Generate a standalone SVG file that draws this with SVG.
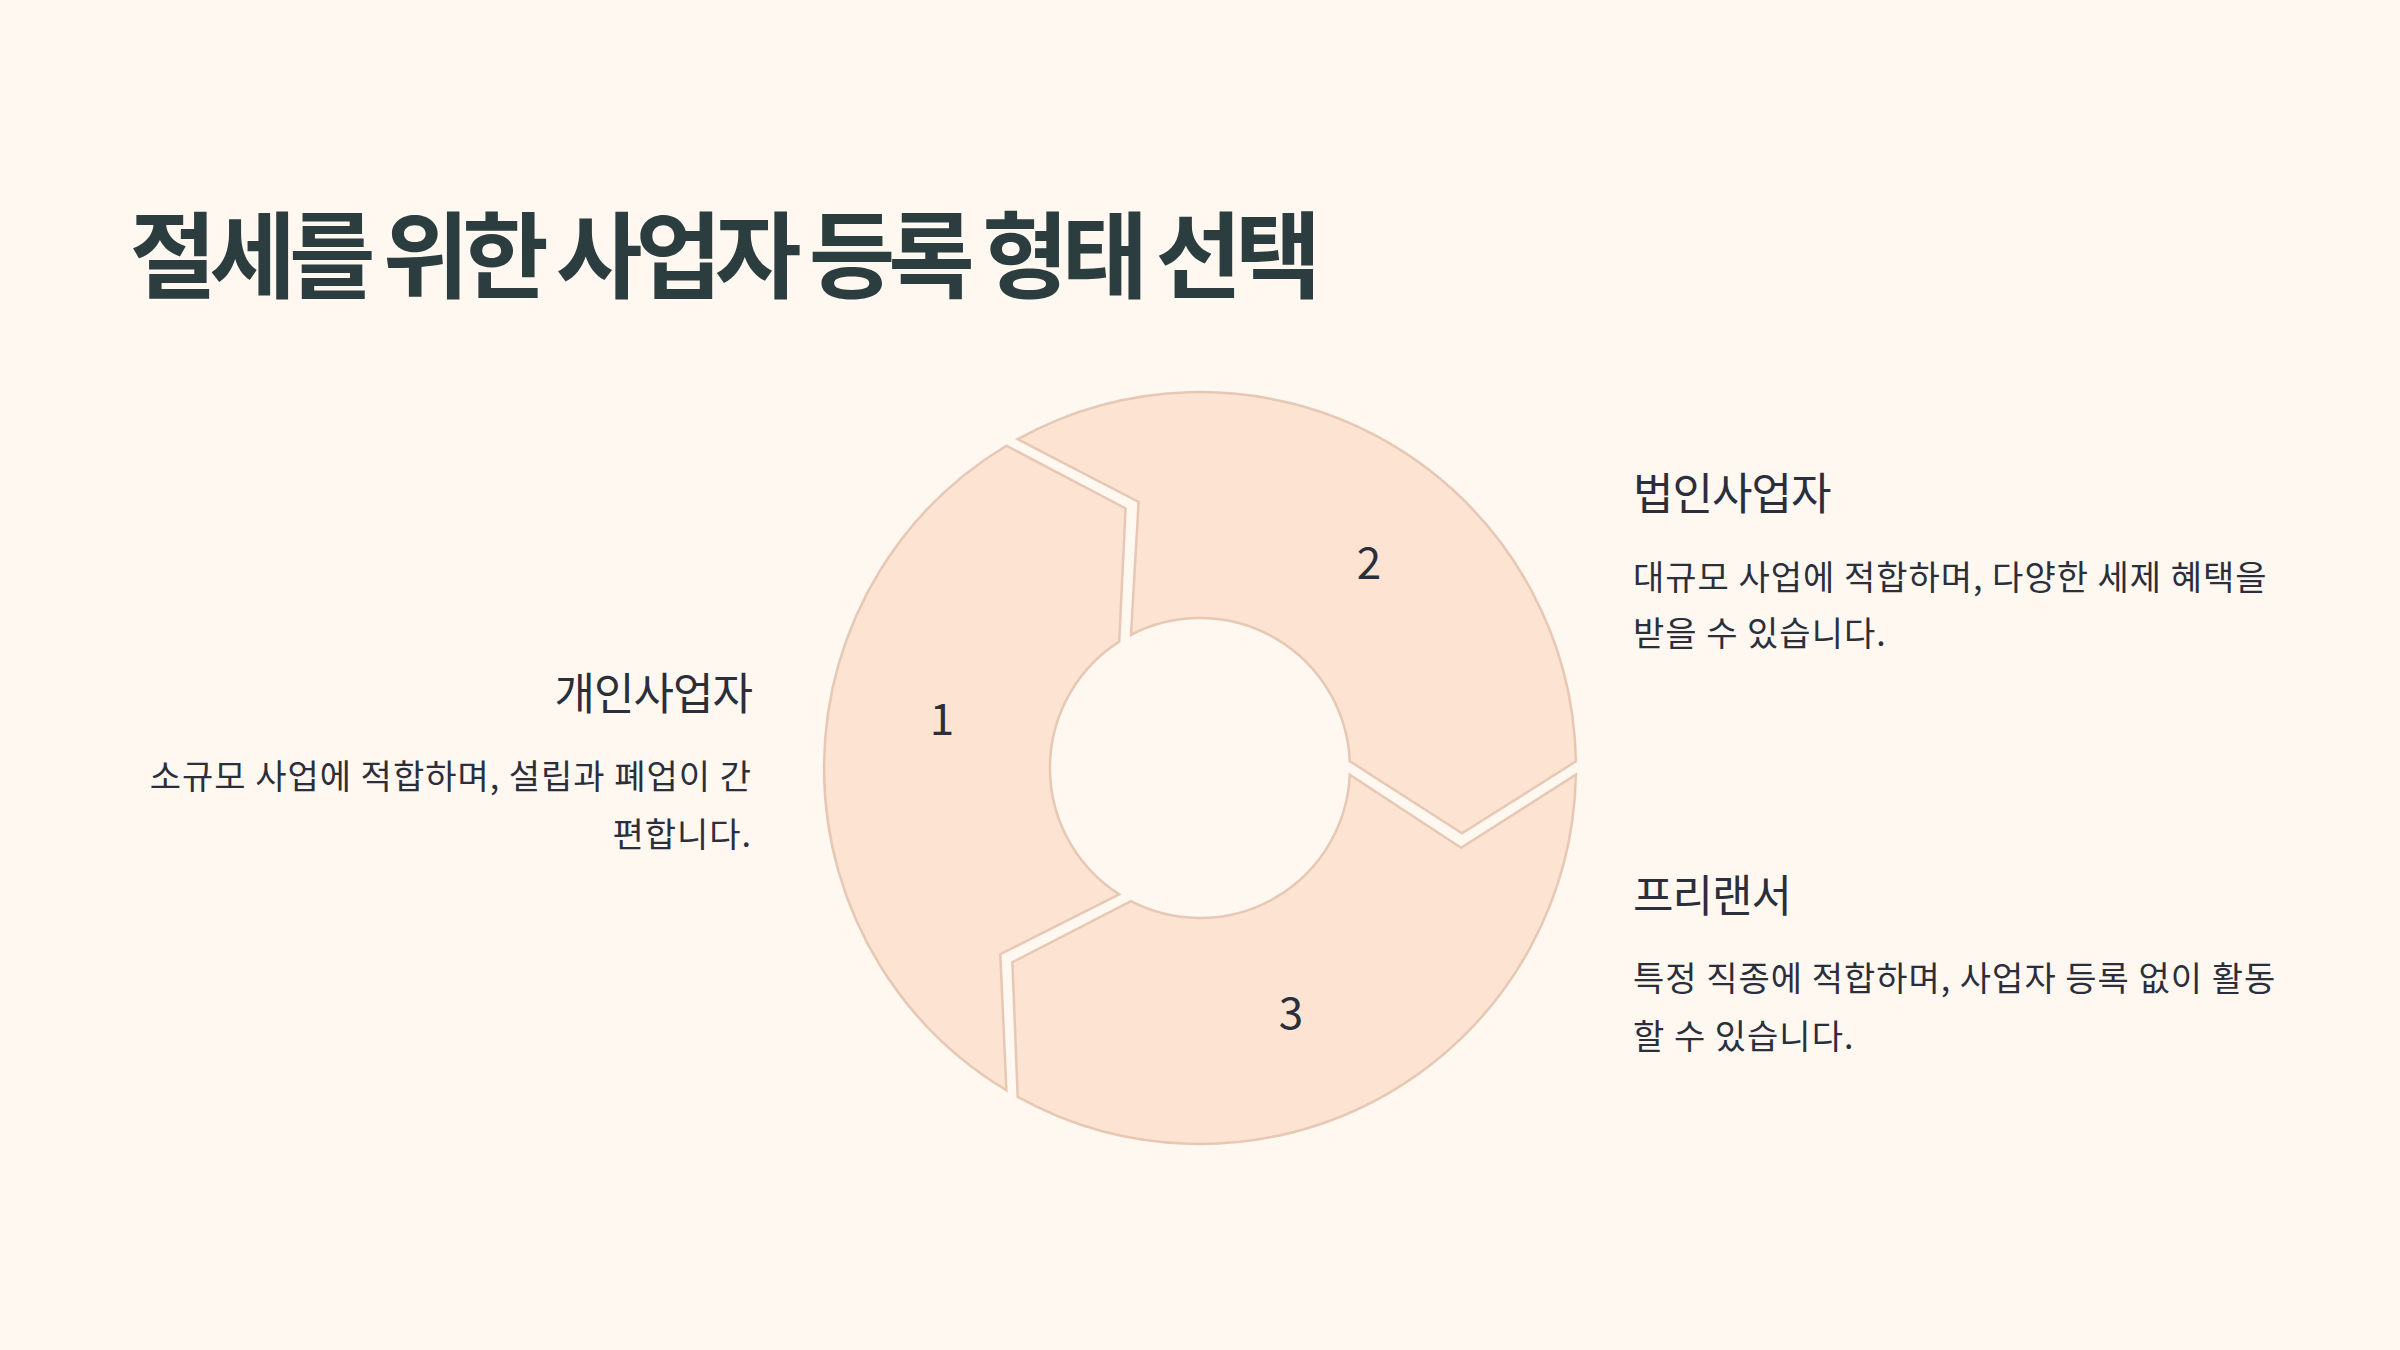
<svg xmlns="http://www.w3.org/2000/svg" width="2400" height="1350" viewBox="0 0 2400 1350">
<style>
text{font-family:"Noto Sans CJK KR","Noto Sans",sans-serif;}
.title{font-size:94px;font-weight:700;fill:#2b3d3f;letter-spacing:-7px;}
.head{font-size:44px;fill:#2b2e3b;letter-spacing:-1px;}
.body{font-size:34px;fill:#2b2e3b;letter-spacing:1px;}
.num{font-size:44px;fill:#2b2e3b;text-anchor:middle;}
.seg{fill:#fce3d2;stroke:#e6c8b4;stroke-width:2.5;stroke-linejoin:miter;}
</style>
<rect width="2400" height="1350" fill="#fef8f1"/>
<g id="title"><text class="title" x="130" y="291">절세를 위한 사업자 등록 형태 선택</text></g>
<g id="cycle">
<g id="seg1"><path class="seg" d="M1006.4,1090.3 A376,376 0 0 1 1006.4,445.7 L1125.6,508.5 L1119.2,641.6 A150,150 0 0 0 1119.2,894.4 L1000.3,954.2 Z"/><text class="num" x="942" y="735">1</text></g>
<g id="seg2"><path class="seg" d="M1017.7,439.2 A376,376 0 0 1 1575.9,761.4 L1462.0,833.3 L1349.8,761.2 A150,150 0 0 0 1131.0,634.8 L1138.6,502.0 Z"/><text class="num" x="1369" y="579">2</text></g>
<g id="seg3"><path class="seg" d="M1575.9,774.6 A376,376 0 0 1 1017.7,1096.8 L1012.4,962.2 L1131.0,901.2 A150,150 0 0 0 1349.8,774.8 L1461.1,847.8 Z"/><text class="num" x="1291" y="1029">3</text></g>
</g>
<g id="connectors"></g>
<g id="node-corp">
<text class="head" x="1633" y="510">법인사업자</text>
<text class="body" x="1633" y="590">대규모 사업에 적합하며, 다양한 세제 혜택을</text>
<text class="body" x="1633" y="646">받을 수 있습니다.</text>
</g>
<g id="node-indiv" text-anchor="end">
<text class="head" x="752" y="710">개인사업자</text>
<text class="body" x="752" y="789">소규모 사업에 적합하며, 설립과 폐업이 간</text>
<text class="body" x="752" y="847">편합니다.</text>
</g>
<g id="node-free">
<text class="head" x="1633" y="912">프리랜서</text>
<text class="body" x="1633" y="991">특정 직종에 적합하며, 사업자 등록 없이 활동</text>
<text class="body" x="1633" y="1049">할 수 있습니다.</text>
</g>
</svg>
